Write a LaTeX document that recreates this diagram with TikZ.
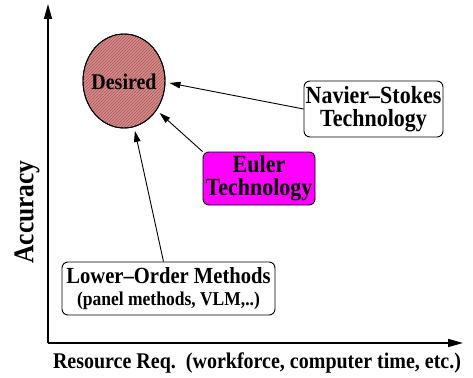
\documentclass[tikz,border=0pt]{standalone}
\usepackage{fontspec}
\usepackage{graphicx}
\setmainfont{Liberation Serif}
\usetikzlibrary{arrows.meta,shapes.geometric,patterns}
\definecolor{desiredfill}{RGB}{214,138,138}
\definecolor{hatch}{RGB}{170,90,90}
\definecolor{eulerfill}{RGB}{255,0,255}
% slightly tall lettering
\newcommand{\tallword}[1]{\scalebox{1}[1.12]{#1}}
\begin{document}
\begin{tikzpicture}[x=1pt,y=-1pt,
  axis/.style={line width=1.5pt,-{Triangle[length=15pt,width=8pt]}},
  link/.style={line width=0.9pt,-{Triangle[length=11pt,width=6.5pt]}},
  techbox/.style={draw,line width=0.9pt,rounded corners=6pt,align=center,
    inner sep=0pt,font=\bfseries\fontsize{22}{23}\selectfont}]
  \useasboundingbox (0,0) rectangle (473,377);

  % axes
  \coordinate (origin) at (48,343);
  \coordinate (ytop) at (48,4);
  \coordinate (xend) at (463,343);
  \draw[axis] (origin) -- (ytop);
  \draw[axis] (origin) -- (xend);

  \node[rotate=90,font=\bfseries\fontsize{25.5}{25}\selectfont] (ylab) at (27,212) {\tallword{Accuracy}};
  \node[font=\bfseries\fontsize{20}{20}\selectfont] (xlab) at (257,363) {\tallword{Resource Req.\ \ (workforce, computer time, etc.)}};

  % target region
  \node[ellipse,draw,line width=0.9pt,fill=desiredfill,inner sep=0pt,
        minimum width=82pt,minimum height=94pt] (des) at (124,81) {};
  \fill[pattern=north east lines,pattern color=hatch] (des.center) ellipse [x radius=40.5pt,y radius=46.5pt];
  \draw[line width=0.9pt] (des.center) ellipse [x radius=41pt,y radius=47pt];
  \node[font=\bfseries\fontsize{20}{20}\selectfont] (destext) at (124,82) {\tallword{Desired}};

  % technologies
  \node[techbox,minimum width=139pt,minimum height=56pt] (ns) at (373.5,109)
    {\tallword{Navier--Stokes}\\\tallword{Technology}};
  \node[techbox,fill=eulerfill,minimum width=112pt,minimum height=53pt] (eul) at (259,178.5)
    {\tallword{Euler}\\\tallword{Technology}};
  \node[techbox,minimum width=213pt,minimum height=53pt,font=\bfseries\fontsize{20.6}{22}\selectfont] (low) at (168.5,288.5)
    {\tallword{Lower--Order Methods}\\{\fontsize{17.5}{18}\selectfont\tallword{(panel methods, VLM,..)}}};

  % links toward the desired region
  \draw[link] (ns.west) -- ([xshift=4pt,yshift=-2pt]des.east);
  \draw[link,shorten >=4pt] (eul.north west) -- (des);
  \draw[link,shorten >=4pt] ([xshift=-5pt]low.north) -- (des);
\end{tikzpicture}
\end{document}
